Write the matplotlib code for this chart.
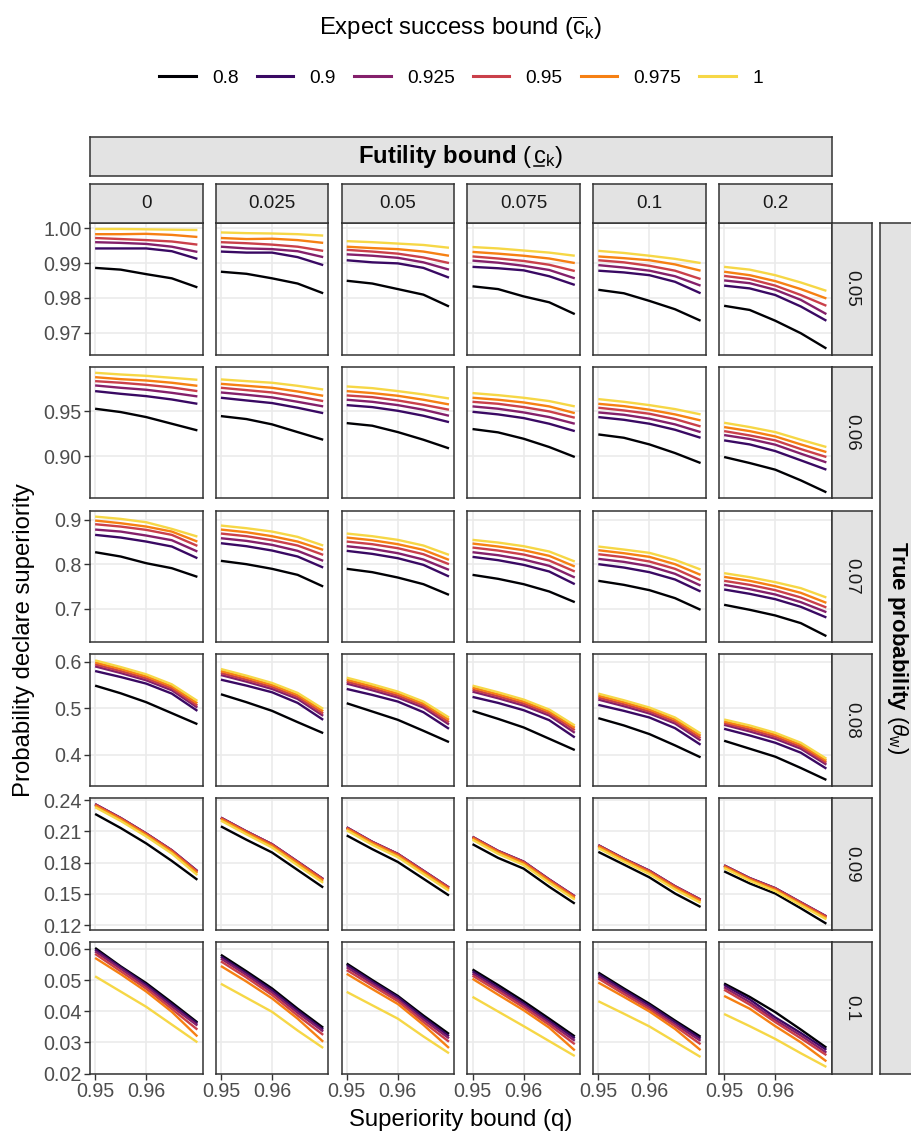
import numpy as np
import matplotlib
matplotlib.use("Agg")
import matplotlib.pyplot as plt
from matplotlib.lines import Line2D

plt.rcParams['font.family'] = ['Liberation Sans', 'DejaVu Sans']
plt.rcParams['mathtext.fontset'] = 'custom'
plt.rcParams['mathtext.rm'] = 'Liberation Sans'
plt.rcParams['mathtext.it'] = 'Liberation Sans:italic'
plt.rcParams['mathtext.bf'] = 'Liberation Sans:bold'

# superiority bound q (x axis)
q_values = [0.95, 0.955, 0.96, 0.965, 0.97]
# expect success bound (colour)
success_bounds = ['0.8', '0.9', '0.925', '0.95', '0.975', '1']
# futility bound (columns)
futility_bounds = ['0', '0.025', '0.05', '0.075', '0.1', '0.2']
# true probability (rows)
true_probs = ['0.05', '0.06', '0.07', '0.08', '0.09', '0.1']

# each array: [futility column][success bound][q]
p_theta_005 = [
    [[0.9886, 0.9881, 0.9868, 0.9856, 0.9830], [0.9942, 0.9942, 0.9942, 0.9934, 0.9912],
     [0.9960, 0.9958, 0.9955, 0.9947, 0.9932], [0.9972, 0.9969, 0.9966, 0.9962, 0.9953],
     [0.9983, 0.9983, 0.9984, 0.9981, 0.9975], [0.9998, 0.9998, 0.9997, 0.9996, 0.9995]],
    [[0.9875, 0.9869, 0.9856, 0.9841, 0.9813], [0.9933, 0.9930, 0.9930, 0.9917, 0.9894],
     [0.9947, 0.9942, 0.9940, 0.9934, 0.9917], [0.9960, 0.9957, 0.9953, 0.9947, 0.9935],
     [0.9972, 0.9969, 0.9970, 0.9966, 0.9958], [0.9988, 0.9986, 0.9985, 0.9983, 0.9979]],
    [[0.9849, 0.9841, 0.9825, 0.9809, 0.9775], [0.9908, 0.9902, 0.9899, 0.9886, 0.9858],
     [0.9925, 0.9921, 0.9915, 0.9902, 0.9881], [0.9938, 0.9933, 0.9927, 0.9916, 0.9900],
     [0.9947, 0.9943, 0.9940, 0.9933, 0.9921], [0.9963, 0.9960, 0.9956, 0.9952, 0.9944]],
    [[0.9833, 0.9825, 0.9804, 0.9787, 0.9753], [0.9889, 0.9885, 0.9879, 0.9862, 0.9837],
     [0.9907, 0.9901, 0.9892, 0.9880, 0.9856], [0.9919, 0.9913, 0.9906, 0.9895, 0.9877],
     [0.9932, 0.9927, 0.9921, 0.9913, 0.9900], [0.9946, 0.9942, 0.9936, 0.9930, 0.9921]],
    [[0.9823, 0.9813, 0.9791, 0.9767, 0.9734], [0.9878, 0.9873, 0.9865, 0.9846, 0.9813],
     [0.9894, 0.9887, 0.9878, 0.9862, 0.9835], [0.9908, 0.9902, 0.9892, 0.9878, 0.9854],
     [0.9919, 0.9914, 0.9908, 0.9896, 0.9878], [0.9935, 0.9929, 0.9921, 0.9912, 0.9900]],
    [[0.9777, 0.9765, 0.9734, 0.9698, 0.9654], [0.9835, 0.9827, 0.9808, 0.9775, 0.9734],
     [0.9850, 0.9842, 0.9823, 0.9794, 0.9753], [0.9863, 0.9854, 0.9835, 0.9808, 0.9777],
     [0.9875, 0.9865, 0.9848, 0.9825, 0.9798], [0.9889, 0.9881, 0.9865, 0.9844, 0.9820]],
]

p_theta_006 = [
    [[0.9530, 0.9493, 0.9437, 0.9363, 0.9289], [0.9726, 0.9696, 0.9670, 0.9633, 0.9585],
     [0.9789, 0.9763, 0.9741, 0.9707, 0.9667], [0.9837, 0.9819, 0.9796, 0.9767, 0.9726],
     [0.9881, 0.9859, 0.9844, 0.9819, 0.9785], [0.9930, 0.9911, 0.9896, 0.9874, 0.9852]],
    [[0.9448, 0.9415, 0.9356, 0.9270, 0.9185], [0.9652, 0.9622, 0.9593, 0.9541, 0.9481],
     [0.9711, 0.9685, 0.9656, 0.9607, 0.9556], [0.9763, 0.9737, 0.9711, 0.9667, 0.9615],
     [0.9807, 0.9785, 0.9763, 0.9722, 0.9674], [0.9856, 0.9837, 0.9819, 0.9785, 0.9744]],
    [[0.9370, 0.9341, 0.9270, 0.9185, 0.9089], [0.9570, 0.9548, 0.9507, 0.9452, 0.9381],
     [0.9630, 0.9607, 0.9570, 0.9519, 0.9452], [0.9678, 0.9659, 0.9622, 0.9574, 0.9519],
     [0.9726, 0.9704, 0.9674, 0.9630, 0.9578], [0.9778, 0.9759, 0.9726, 0.9689, 0.9644]],
    [[0.9304, 0.9267, 0.9196, 0.9104, 0.8993], [0.9496, 0.9467, 0.9426, 0.9363, 0.9281],
     [0.9556, 0.9530, 0.9489, 0.9437, 0.9363], [0.9607, 0.9585, 0.9548, 0.9500, 0.9430],
     [0.9652, 0.9630, 0.9600, 0.9556, 0.9481], [0.9704, 0.9681, 0.9652, 0.9615, 0.9556]],
    [[0.9244, 0.9207, 0.9133, 0.9037, 0.8926], [0.9437, 0.9407, 0.9363, 0.9296, 0.9207],
     [0.9489, 0.9463, 0.9419, 0.9356, 0.9270], [0.9541, 0.9511, 0.9474, 0.9415, 0.9333],
     [0.9585, 0.9559, 0.9519, 0.9467, 0.9400], [0.9637, 0.9607, 0.9570, 0.9526, 0.9467]],
    [[0.8993, 0.8926, 0.8852, 0.8733, 0.8600], [0.9178, 0.9133, 0.9059, 0.8956, 0.8852],
     [0.9237, 0.9193, 0.9130, 0.9030, 0.8933], [0.9281, 0.9233, 0.9178, 0.9081, 0.8993],
     [0.9326, 0.9281, 0.9222, 0.9133, 0.9048], [0.9374, 0.9326, 0.9270, 0.9185, 0.9104]],
]

p_theta_007 = [
    [[0.8269, 0.8172, 0.8022, 0.7910, 0.7716], [0.8657, 0.8597, 0.8507, 0.8396, 0.8134],
     [0.8776, 0.8731, 0.8642, 0.8537, 0.8284], [0.8896, 0.8843, 0.8769, 0.8657, 0.8410],
     [0.8978, 0.8918, 0.8843, 0.8731, 0.8507], [0.9067, 0.9015, 0.8940, 0.8791, 0.8619]],
    [[0.8075, 0.8000, 0.7896, 0.7761, 0.7500], [0.8470, 0.8403, 0.8306, 0.8172, 0.7925],
     [0.8582, 0.8522, 0.8433, 0.8299, 0.8075], [0.8687, 0.8627, 0.8537, 0.8418, 0.8209],
     [0.8776, 0.8716, 0.8627, 0.8507, 0.8321], [0.8866, 0.8806, 0.8731, 0.8612, 0.8418]],
    [[0.7896, 0.7821, 0.7701, 0.7552, 0.7313], [0.8299, 0.8231, 0.8134, 0.7985, 0.7724],
     [0.8403, 0.8343, 0.8246, 0.8104, 0.7873], [0.8507, 0.8448, 0.8358, 0.8224, 0.8000],
     [0.8597, 0.8537, 0.8448, 0.8321, 0.8097], [0.8687, 0.8627, 0.8545, 0.8418, 0.8209]],
    [[0.7761, 0.7672, 0.7552, 0.7388, 0.7149], [0.8164, 0.8090, 0.7985, 0.7836, 0.7552],
     [0.8269, 0.8201, 0.8104, 0.7963, 0.7701], [0.8373, 0.8306, 0.8216, 0.8082, 0.7836],
     [0.8463, 0.8396, 0.8313, 0.8187, 0.7948], [0.8545, 0.8485, 0.8403, 0.8284, 0.8060]],
    [[0.7627, 0.7537, 0.7418, 0.7239, 0.6978], [0.8000, 0.7925, 0.7821, 0.7657, 0.7388],
     [0.8119, 0.8052, 0.7955, 0.7784, 0.7522], [0.8224, 0.8157, 0.8060, 0.7896, 0.7642],
     [0.8313, 0.8246, 0.8164, 0.8000, 0.7761], [0.8396, 0.8328, 0.8254, 0.8097, 0.7881]],
    [[0.7090, 0.6978, 0.6851, 0.6679, 0.6388], [0.7433, 0.7336, 0.7216, 0.7045, 0.6806],
     [0.7537, 0.7440, 0.7321, 0.7149, 0.6925], [0.7627, 0.7537, 0.7418, 0.7254, 0.7030],
     [0.7716, 0.7627, 0.7507, 0.7358, 0.7134], [0.7799, 0.7709, 0.7597, 0.7463, 0.7254]],
]

p_theta_008 = [
    [[0.5486, 0.5321, 0.5129, 0.4893, 0.4657], [0.5800, 0.5671, 0.5529, 0.5314, 0.4943],
     [0.5900, 0.5757, 0.5600, 0.5386, 0.5014], [0.5943, 0.5800, 0.5643, 0.5429, 0.5057],
     [0.5986, 0.5843, 0.5686, 0.5471, 0.5107], [0.6029, 0.5886, 0.5729, 0.5514, 0.5157]],
    [[0.5300, 0.5129, 0.4943, 0.4700, 0.4464], [0.5614, 0.5486, 0.5343, 0.5114, 0.4750],
     [0.5714, 0.5571, 0.5414, 0.5200, 0.4836], [0.5757, 0.5614, 0.5457, 0.5243, 0.4886],
     [0.5800, 0.5657, 0.5500, 0.5286, 0.4936], [0.5843, 0.5700, 0.5543, 0.5329, 0.4986]],
    [[0.5107, 0.4929, 0.4750, 0.4514, 0.4271], [0.5414, 0.5286, 0.5143, 0.4914, 0.4557],
     [0.5529, 0.5386, 0.5229, 0.5014, 0.4650], [0.5571, 0.5429, 0.5271, 0.5057, 0.4700],
     [0.5614, 0.5471, 0.5314, 0.5100, 0.4750], [0.5657, 0.5514, 0.5357, 0.5143, 0.4800]],
    [[0.4943, 0.4771, 0.4586, 0.4343, 0.4100], [0.5243, 0.5114, 0.4957, 0.4743, 0.4371],
     [0.5357, 0.5214, 0.5057, 0.4843, 0.4471], [0.5400, 0.5257, 0.5100, 0.4886, 0.4529],
     [0.5443, 0.5300, 0.5143, 0.4929, 0.4579], [0.5486, 0.5343, 0.5186, 0.4971, 0.4629]],
    [[0.4786, 0.4629, 0.4443, 0.4200, 0.3943], [0.5071, 0.4943, 0.4800, 0.4571, 0.4214],
     [0.5186, 0.5043, 0.4886, 0.4671, 0.4307], [0.5229, 0.5086, 0.4929, 0.4714, 0.4357],
     [0.5271, 0.5129, 0.4971, 0.4757, 0.4407], [0.5314, 0.5171, 0.5014, 0.4800, 0.4457]],
    [[0.4300, 0.4129, 0.3957, 0.3714, 0.3457], [0.4557, 0.4414, 0.4257, 0.4043, 0.3700],
     [0.4643, 0.4500, 0.4343, 0.4129, 0.3786], [0.4679, 0.4543, 0.4386, 0.4171, 0.3829],
     [0.4714, 0.4586, 0.4429, 0.4214, 0.3871], [0.4757, 0.4629, 0.4471, 0.4257, 0.3914]],
]

p_theta_009 = [
    [[0.2267, 0.2132, 0.1984, 0.1816, 0.1635], [0.2361, 0.2229, 0.2080, 0.1919, 0.1719],
     [0.2361, 0.2228, 0.2079, 0.1918, 0.1716], [0.2358, 0.2226, 0.2077, 0.1916, 0.1713],
     [0.2348, 0.2216, 0.2067, 0.1903, 0.1700], [0.2332, 0.2200, 0.2051, 0.1887, 0.1680]],
    [[0.2148, 0.2019, 0.1897, 0.1729, 0.1561], [0.2232, 0.2100, 0.1977, 0.1810, 0.1642],
     [0.2231, 0.2099, 0.1976, 0.1808, 0.1641], [0.2229, 0.2097, 0.1974, 0.1806, 0.1639],
     [0.2219, 0.2087, 0.1961, 0.1794, 0.1626], [0.2203, 0.2071, 0.1945, 0.1774, 0.1606]],
    [[0.2061, 0.1929, 0.1806, 0.1645, 0.1484], [0.2139, 0.2000, 0.1884, 0.1723, 0.1561],
     [0.2137, 0.1999, 0.1883, 0.1721, 0.1560], [0.2135, 0.1997, 0.1881, 0.1719, 0.1558],
     [0.2126, 0.1987, 0.1868, 0.1706, 0.1545], [0.2110, 0.1971, 0.1852, 0.1690, 0.1529]],
    [[0.1977, 0.1845, 0.1742, 0.1568, 0.1406], [0.2048, 0.1913, 0.1810, 0.1639, 0.1477],
     [0.2046, 0.1912, 0.1808, 0.1637, 0.1476], [0.2045, 0.1910, 0.1806, 0.1635, 0.1474],
     [0.2035, 0.1900, 0.1794, 0.1623, 0.1461], [0.2019, 0.1884, 0.1777, 0.1606, 0.1445]],
    [[0.1903, 0.1781, 0.1658, 0.1503, 0.1374], [0.1968, 0.1839, 0.1723, 0.1574, 0.1445],
     [0.1966, 0.1837, 0.1721, 0.1572, 0.1444], [0.1965, 0.1835, 0.1719, 0.1571, 0.1442],
     [0.1955, 0.1826, 0.1706, 0.1558, 0.1429], [0.1939, 0.1810, 0.1690, 0.1542, 0.1413]],
    [[0.1716, 0.1600, 0.1503, 0.1361, 0.1213], [0.1774, 0.1652, 0.1555, 0.1419, 0.1284],
     [0.1772, 0.1650, 0.1553, 0.1417, 0.1282], [0.1771, 0.1648, 0.1552, 0.1416, 0.1281],
     [0.1761, 0.1639, 0.1539, 0.1403, 0.1268], [0.1748, 0.1626, 0.1526, 0.1390, 0.1255]],
]

p_theta_010 = [
    [[0.0603, 0.0544, 0.0490, 0.0428, 0.0364], [0.0598, 0.0541, 0.0485, 0.0422, 0.0360],
     [0.0592, 0.0536, 0.0479, 0.0415, 0.0354], [0.0584, 0.0528, 0.0472, 0.0407, 0.0341],
     [0.0571, 0.0519, 0.0463, 0.0398, 0.0319], [0.0512, 0.0463, 0.0414, 0.0357, 0.0300]],
    [[0.0581, 0.0528, 0.0473, 0.0408, 0.0347], [0.0575, 0.0522, 0.0467, 0.0402, 0.0341],
     [0.0569, 0.0516, 0.0460, 0.0395, 0.0335], [0.0560, 0.0508, 0.0452, 0.0386, 0.0324],
     [0.0545, 0.0495, 0.0441, 0.0376, 0.0302], [0.0488, 0.0443, 0.0398, 0.0338, 0.0282]],
    [[0.0553, 0.0500, 0.0449, 0.0386, 0.0327], [0.0548, 0.0495, 0.0445, 0.0380, 0.0320],
     [0.0541, 0.0489, 0.0438, 0.0373, 0.0313], [0.0532, 0.0482, 0.0432, 0.0365, 0.0302],
     [0.0520, 0.0471, 0.0423, 0.0356, 0.0282], [0.0462, 0.0419, 0.0376, 0.0319, 0.0265]],
    [[0.0534, 0.0484, 0.0432, 0.0376, 0.0319], [0.0528, 0.0477, 0.0425, 0.0369, 0.0313],
     [0.0521, 0.0471, 0.0419, 0.0363, 0.0305], [0.0514, 0.0464, 0.0412, 0.0356, 0.0294],
     [0.0504, 0.0453, 0.0403, 0.0347, 0.0274], [0.0446, 0.0399, 0.0352, 0.0304, 0.0256]],
    [[0.0524, 0.0473, 0.0424, 0.0370, 0.0318], [0.0519, 0.0468, 0.0419, 0.0365, 0.0312],
     [0.0512, 0.0462, 0.0412, 0.0358, 0.0305], [0.0505, 0.0455, 0.0406, 0.0352, 0.0294],
     [0.0492, 0.0446, 0.0399, 0.0343, 0.0275], [0.0432, 0.0392, 0.0351, 0.0302, 0.0253]],
    [[0.0489, 0.0446, 0.0397, 0.0341, 0.0283], [0.0484, 0.0438, 0.0380, 0.0330, 0.0276],
     [0.0477, 0.0429, 0.0372, 0.0322, 0.0267], [0.0469, 0.0421, 0.0365, 0.0313, 0.0259],
     [0.0449, 0.0408, 0.0352, 0.0300, 0.0239], [0.0391, 0.0352, 0.0311, 0.0265, 0.0221]],
]

rows_data = [p_theta_005, p_theta_006, p_theta_007, p_theta_008, p_theta_009, p_theta_010]

y_ticks = [
    [0.97, 0.98, 0.99, 1.00],
    [0.90, 0.95],
    [0.7, 0.8, 0.9],
    [0.4, 0.5, 0.6],
    [0.12, 0.15, 0.18, 0.21, 0.24],
    [0.02, 0.03, 0.04, 0.05, 0.06],
]
y_fmt = ['{:.2f}', '{:.2f}', '{:.1f}', '{:.1f}', '{:.2f}', '{:.2f}']
x_ticks = [0.95, 0.96]

colors = [plt.cm.inferno(v) for v in np.linspace(0, 0.9, len(success_bounds))]

# ---- layout in pixels ----
W, H = 911, 1133
fig = plt.figure(figsize=(W / 100, H / 100), dpi=100)

def px_axes(x0, y0, w, h):
    return fig.add_axes([x0 / W, 1 - (y0 + h) / H, w / W, h / H])

strip_fill = '#E3E3E3'
border = '#333333'
tick_fs = 14.2
strip_fs = 13.5
title_fs = 17.2

def strip(ax):
    ax.set_facecolor(strip_fill)
    ax.set_xticks([])
    ax.set_yticks([])
    for s in ax.spines.values():
        s.set_color(border)
        s.set_linewidth(1.1)

panel_x0, panel_pitch_x, panel_w = 90, 125.8, 112.5
panel_y0, panel_pitch_y, panel_h = 223, 143.8, 131.5

xlo, xhi = min(q_values), max(q_values)
xpad = (xhi - xlo) * 0.05

for i, data in enumerate(rows_data):
    arr = np.array(data)
    lo, hi = arr.min(), arr.max()
    pad = (hi - lo) * 0.05
    top = panel_y0 + i * panel_pitch_y
    for j in range(len(futility_bounds)):
        left = panel_x0 + j * panel_pitch_x
        ax = px_axes(left, top, panel_w, panel_h)
        for k, c in enumerate(colors):
            ax.plot(q_values, data[j][k], color=c, lw=1.7, solid_capstyle='butt', zorder=3)
        ax.set_xlim(xlo - xpad, xhi + xpad)
        ax.set_ylim(lo - pad, hi + pad)
        ax.set_xticks(x_ticks)
        ax.set_yticks(y_ticks[i])
        ax.grid(True, color='#EBEBEB', lw=1.2, zorder=0)
        ax.set_axisbelow(True)
        for s in ax.spines.values():
            s.set_color(border)
            s.set_linewidth(1.1)
        ax.tick_params(length=4, width=1.0, color=border, labelcolor='#4D4D4D',
                       labelsize=tick_fs, pad=2)
        if j == 0:
            ax.set_yticklabels([y_fmt[i].format(t) for t in y_ticks[i]])
        else:
            ax.tick_params(axis='y', length=0, labelleft=False)
        if i == len(rows_data) - 1:
            ax.set_xticklabels(['{:.2f}'.format(t) for t in x_ticks])
        else:
            ax.tick_params(axis='x', length=0, labelbottom=False)

        if i == 0:
            sax = px_axes(left, 184, panel_w, 39)
            strip(sax)
            sax.text(0.5, 0.5, futility_bounds[j], ha='center', va='center',
                     fontsize=strip_fs, color='#1A1A1A', transform=sax.transAxes)
    rax = px_axes(panel_x0 + 5 * panel_pitch_x + panel_w, top, 40, panel_h)
    strip(rax)
    rax.text(0.5, 0.5, true_probs[i], ha='center', va='center', rotation=270,
             fontsize=strip_fs, color='#1A1A1A', transform=rax.transAxes)

# outer strips
full_w = 5 * panel_pitch_x + panel_w
tax = px_axes(panel_x0, 137, full_w, 39)
strip(tax)

# top strip title built from pieces so the c can be underlined
renderer = fig.canvas.get_renderer()
p1 = r'$\mathbf{Futility\ bound}$ ('
p2 = r'$\mathrm{c}_{\mathrm{k}}$'
p3 = ')'
widths = []
for s in (p1, p2, p3):
    t = fig.text(0, 0, s, fontsize=title_fs)
    widths.append(t.get_window_extent(renderer).width)
    t.remove()
tc = fig.text(0, 0, 'c', fontsize=title_fs)
c_w = tc.get_window_extent(renderer).width
tc.remove()
base_y = 137 + 39 / 2 + 6.5
x_start = panel_x0 + full_w / 2 - sum(widths) / 2
xx = x_start
for s, w in zip((p1, p2, p3), widths):
    fig.text(xx / W, 1 - base_y / H, s, fontsize=title_fs, va='baseline')
    xx += w
cx = x_start + widths[0] + 1
fig.add_artist(Line2D([cx / W, (cx + c_w - 1.5) / W], [1 - (base_y + 3) / H] * 2,
                      color='black', lw=1.1))

full_h = 5 * panel_pitch_y + panel_h
oax = px_axes(880, panel_y0, 50, full_h)
strip(oax)
oax.text(17.5 / 50, 0.5, r'$\mathbf{True\ probability}$ ($\theta_{\mathrm{w}}$)',
         ha='center', va='center', rotation=270, fontsize=16, color='black',
         transform=oax.transAxes)

# axis titles
fig.text((panel_x0 + full_w / 2) / W, 1 - 1120 / H, 'Superiority bound (q)',
         ha='center', va='center', fontsize=title_fs)
fig.text(24 / W, 1 - 640 / H, 'Probability declare superiority',
         ha='center', va='center', rotation=90, fontsize=title_fs)

# legend
handles = [Line2D([], [], color=c, lw=2.2) for c in colors]
fig.text(461 / W, 1 - 28 / H, r'Expect success bound ($\overline{\mathrm{c}}_{\mathrm{k}}$)',
         ha='center', va='center', fontsize=title_fs)
fig.legend(handles, success_bounds, loc='center', bbox_to_anchor=(461 / W, 1 - 78 / H),
           ncol=6, frameon=False, fontsize=13.8, handlelength=1.9, handletextpad=0.85,
           columnspacing=0.95)

fig.savefig('out.png', dpi=100)
